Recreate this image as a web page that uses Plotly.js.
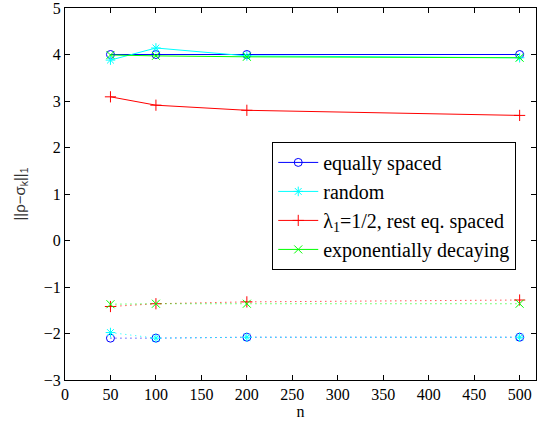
<!DOCTYPE html>
<html>
<head>
<meta charset="utf-8">
<script src="https://cdn.plot.ly/plotly-3.0.1.min.js"></script>
<style>
html,body{margin:0;padding:0;background:#fff;}
#chart{width:538px;height:431px;}
</style>
</head>
<body>
<div id="chart"></div>
<script>
var nVals = [50, 100, 200, 500];
var equallySpaced = [4.00, 4.00, 4.00, 4.00];
var randomVals = [3.88, 4.14, 3.97, 3.93];
var lambdaHalf = [3.09, 2.91, 2.80, 2.69];
var expDecay = [3.99, 3.97, 3.95, 3.93];
var equallySpacedLow = [-2.10, -2.10, -2.08, -2.08];
var randomLow = [-1.98, -2.10, -2.08, -2.08];
var lambdaHalfLow = [-1.42, -1.36, -1.32, -1.28];
var expDecayLow = [-1.37, -1.36, -1.36, -1.36];
var names = ['equally spaced', 'random', '\u03bb<sub>1</sub>=1/2, rest eq. spaced', 'exponentially decaying'];
var xTicks = [0, 50, 100, 150, 200, 250, 300, 350, 400, 450, 500];
var yTicks = [-3, -2, -1, 0, 1, 2, 3, 4, 5];

function tr(y, name, color, symbol, dash, show) {
  return {
    x: nVals, y: y, name: name, type: 'scatter', mode: 'lines+markers',
    line: {color: color, width: 1, dash: dash},
    marker: {symbol: symbol, size: 8, color: color, line: {color: color, width: 1}},
    showlegend: show
  };
}
var dotted = '1px,4px';
var data = [
  tr(equallySpaced, names[0], '#0000ff', 'circle-open', 'solid', true),
  tr(randomVals, names[1], '#00ffff', 'asterisk-open', 'solid', true),
  tr(lambdaHalf, names[2], '#ff0000', 'cross-thin-open', 'solid', true),
  tr(expDecay, names[3], '#00ff00', 'x-thin-open', 'solid', true),
  tr(equallySpacedLow, names[0], '#0000ff', 'circle-open', dotted, false),
  tr(randomLow, names[1], '#00ffff', 'asterisk-open', dotted, false),
  tr(lambdaHalfLow, names[2], '#ff0000', 'cross-thin-open', dotted, false),
  tr(expDecayLow, names[3], '#00ff00', 'x-thin-open', dotted, false)
];
var serif = 'Liberation Serif, serif';
var tickFont = {family: serif, size: 16, color: '#000'};
var layout = {
  width: 538, height: 431,
  margin: {l: 65, r: 2, t: 8, b: 51},
  paper_bgcolor: '#fff', plot_bgcolor: '#fff',
  font: {family: serif},
  showlegend: true,
  xaxis: {
    range: [0, 518], tickvals: xTicks, ticktext: xTicks.map(String),
    ticks: 'inside', ticklen: 5, tickcolor: '#000', tickwidth: 1,
    showline: true, linecolor: '#000', linewidth: 1, mirror: 'ticks',
    showgrid: false, zeroline: false, tickfont: tickFont, ticklabeloverflow: 'allow',
    title: {text: 'n', font: tickFont, standoff: 2}
  },
  yaxis: {
    range: [-3, 5], tickvals: yTicks, ticktext: yTicks.map(function(v){return v < 0 ? '\u2212' + Math.abs(v) : String(v);}),
    ticks: 'inside', ticklen: 5, tickcolor: '#000', tickwidth: 1,
    showline: true, linecolor: '#000', linewidth: 1, mirror: 'ticks',
    showgrid: false, zeroline: false, tickfont: tickFont, ticklabeloverflow: 'allow',
    title: {text: '||\u03c1\u2212\u03c3<sub>k</sub>||<sub>1</sub>', font: {family: 'Liberation Sans, sans-serif', size: 15, color: '#333'}, standoff: 14}
  },
  legend: {
    x: 0.44, y: 0.64, xanchor: 'left', yanchor: 'top',
    bgcolor: '#fff', bordercolor: '#000', borderwidth: 1,
    font: {family: serif, size: 20, color: '#000'},
    tracegroupgap: 0, itemwidth: 40
  }
};
Plotly.newPlot('chart', data, layout, {staticPlot: true, displayModeBar: false});
</script>
</body>
</html>
